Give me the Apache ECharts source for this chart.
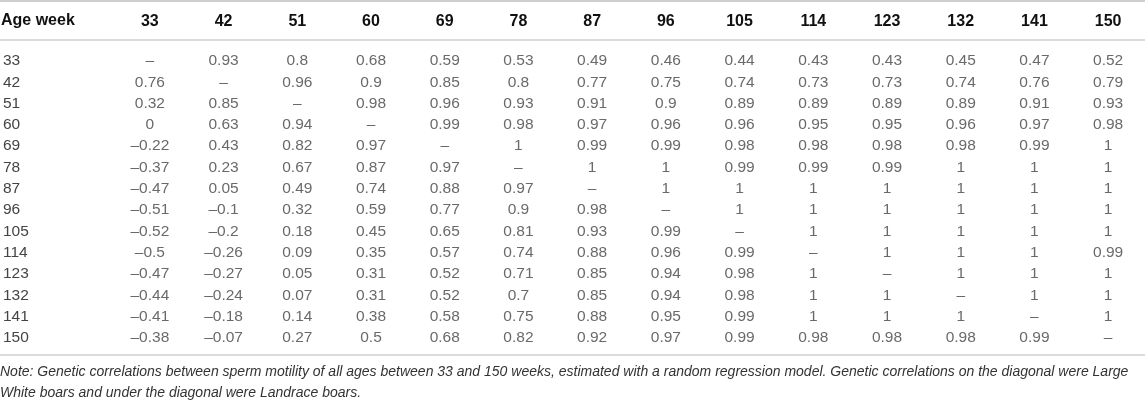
<!DOCTYPE html>
<html>
<head>
<meta charset="utf-8">
<script src="https://cdn.jsdelivr.net/npm/echarts@6/dist/echarts.min.js"></script>
<style>
  html, body { margin: 0; padding: 0; background: #fff; }
  #main { width: 1145px; height: 403px; }
</style>
</head>
<body>
<div id="main"></div>
<script>
// age weeks, used both as column headers and row labels
var ages = ['33', '42', '51', '60', '69', '78', '87', '96', '105', '114', '123', '132', '141', '150'];

// genetic correlations, one row per age week (null = diagonal)
var corr = [
  [null, 0.93, 0.8, 0.68, 0.59, 0.53, 0.49, 0.46, 0.44, 0.43, 0.43, 0.45, 0.47, 0.52],
  [0.76, null, 0.96, 0.9, 0.85, 0.8, 0.77, 0.75, 0.74, 0.73, 0.73, 0.74, 0.76, 0.79],
  [0.32, 0.85, null, 0.98, 0.96, 0.93, 0.91, 0.9, 0.89, 0.89, 0.89, 0.89, 0.91, 0.93],
  [0, 0.63, 0.94, null, 0.99, 0.98, 0.97, 0.96, 0.96, 0.95, 0.95, 0.96, 0.97, 0.98],
  [-0.22, 0.43, 0.82, 0.97, null, 1, 0.99, 0.99, 0.98, 0.98, 0.98, 0.98, 0.99, 1],
  [-0.37, 0.23, 0.67, 0.87, 0.97, null, 1, 1, 0.99, 0.99, 0.99, 1, 1, 1],
  [-0.47, 0.05, 0.49, 0.74, 0.88, 0.97, null, 1, 1, 1, 1, 1, 1, 1],
  [-0.51, -0.1, 0.32, 0.59, 0.77, 0.9, 0.98, null, 1, 1, 1, 1, 1, 1],
  [-0.52, -0.2, 0.18, 0.45, 0.65, 0.81, 0.93, 0.99, null, 1, 1, 1, 1, 1],
  [-0.5, -0.26, 0.09, 0.35, 0.57, 0.74, 0.88, 0.96, 0.99, null, 1, 1, 1, 0.99],
  [-0.47, -0.27, 0.05, 0.31, 0.52, 0.71, 0.85, 0.94, 0.98, 1, null, 1, 1, 1],
  [-0.44, -0.24, 0.07, 0.31, 0.52, 0.7, 0.85, 0.94, 0.98, 1, 1, null, 1, 1],
  [-0.41, -0.18, 0.14, 0.38, 0.58, 0.75, 0.88, 0.95, 0.99, 1, 1, 1, null, 1],
  [-0.38, -0.07, 0.27, 0.5, 0.68, 0.82, 0.92, 0.97, 0.99, 0.98, 0.98, 0.98, 0.99, null]
];

var firstHeader = 'Age week';
var noteLines = [
  'Note: Genetic correlations between sperm motility of all ages between 33 and 150 weeks, estimated with a random regression model. Genetic correlations on the diagonal were Large',
  'White boars and under the diagonal were Landrace boars.'
];

var FONT = '"Liberation Sans", Arial, sans-serif';

function fmt(v) {
  if (v === null) return '\u2013';
  return String(v).replace('-', '\u2013');
}

var cells = [];
corr.forEach(function (row, r) {
  row.forEach(function (v, c) {
    cells.push([c, r]);
  });
});

var myChart = echarts.init(document.getElementById('main'), null, { renderer: 'canvas' });
myChart.setOption({
  animation: false,
  grid: { left: 111, top: 50.3, width: 1058.7, height: 298.2 },
  xAxis: {
    type: 'category',
    position: 'top',
    data: ages,
    axisLine: { show: false },
    axisTick: { show: false },
    splitLine: { show: false },
    axisLabel: {
      margin: 21,
      fontFamily: FONT,
      fontSize: 16,
      fontWeight: 'bold',
      color: '#111'
    }
  },
  yAxis: {
    type: 'category',
    inverse: true,
    data: ages,
    axisLine: { show: false },
    axisTick: { show: false },
    splitLine: { show: false },
    axisLabel: {
      margin: 110,
      align: 'left',
      fontFamily: FONT,
      fontSize: 15.5,
      color: '#444'
    }
  },
  graphic: [
    { type: 'line', shape: { x1: 0, y1: 1, x2: 1145, y2: 1 }, style: { stroke: '#cfcfcf', lineWidth: 2 } },
    { type: 'line', shape: { x1: 0, y1: 40, x2: 1145, y2: 40 }, style: { stroke: '#cfcfcf', lineWidth: 1.5 } },
    { type: 'line', shape: { x1: 0, y1: 355, x2: 1145, y2: 355 }, style: { stroke: '#cfcfcf', lineWidth: 1.5 } },
    {
      type: 'text', left: 1, top: 13,
      style: { text: firstHeader, font: 'bold 16px ' + FONT, fill: '#111' }
    },
    {
      type: 'text', left: 0, top: 365,
      style: { text: noteLines[0], font: 'italic 14px ' + FONT, fill: '#333' }
    },
    {
      type: 'text', left: 0, top: 386,
      style: { text: noteLines[1], font: 'italic 14px ' + FONT, fill: '#333' }
    }
  ],
  series: [
    {
      type: 'scatter',
      data: cells,
      symbol: 'rect',
      symbolSize: 1,
      itemStyle: { color: 'rgba(0,0,0,0)' },
      label: {
        show: true,
        position: 'inside',
        fontFamily: FONT,
        fontSize: 15.5,
        color: '#444',
        formatter: function (p) {
          return fmt(corr[p.value[1]][p.value[0]]);
        }
      }
    }
  ]
});
</script>
</body>
</html>
